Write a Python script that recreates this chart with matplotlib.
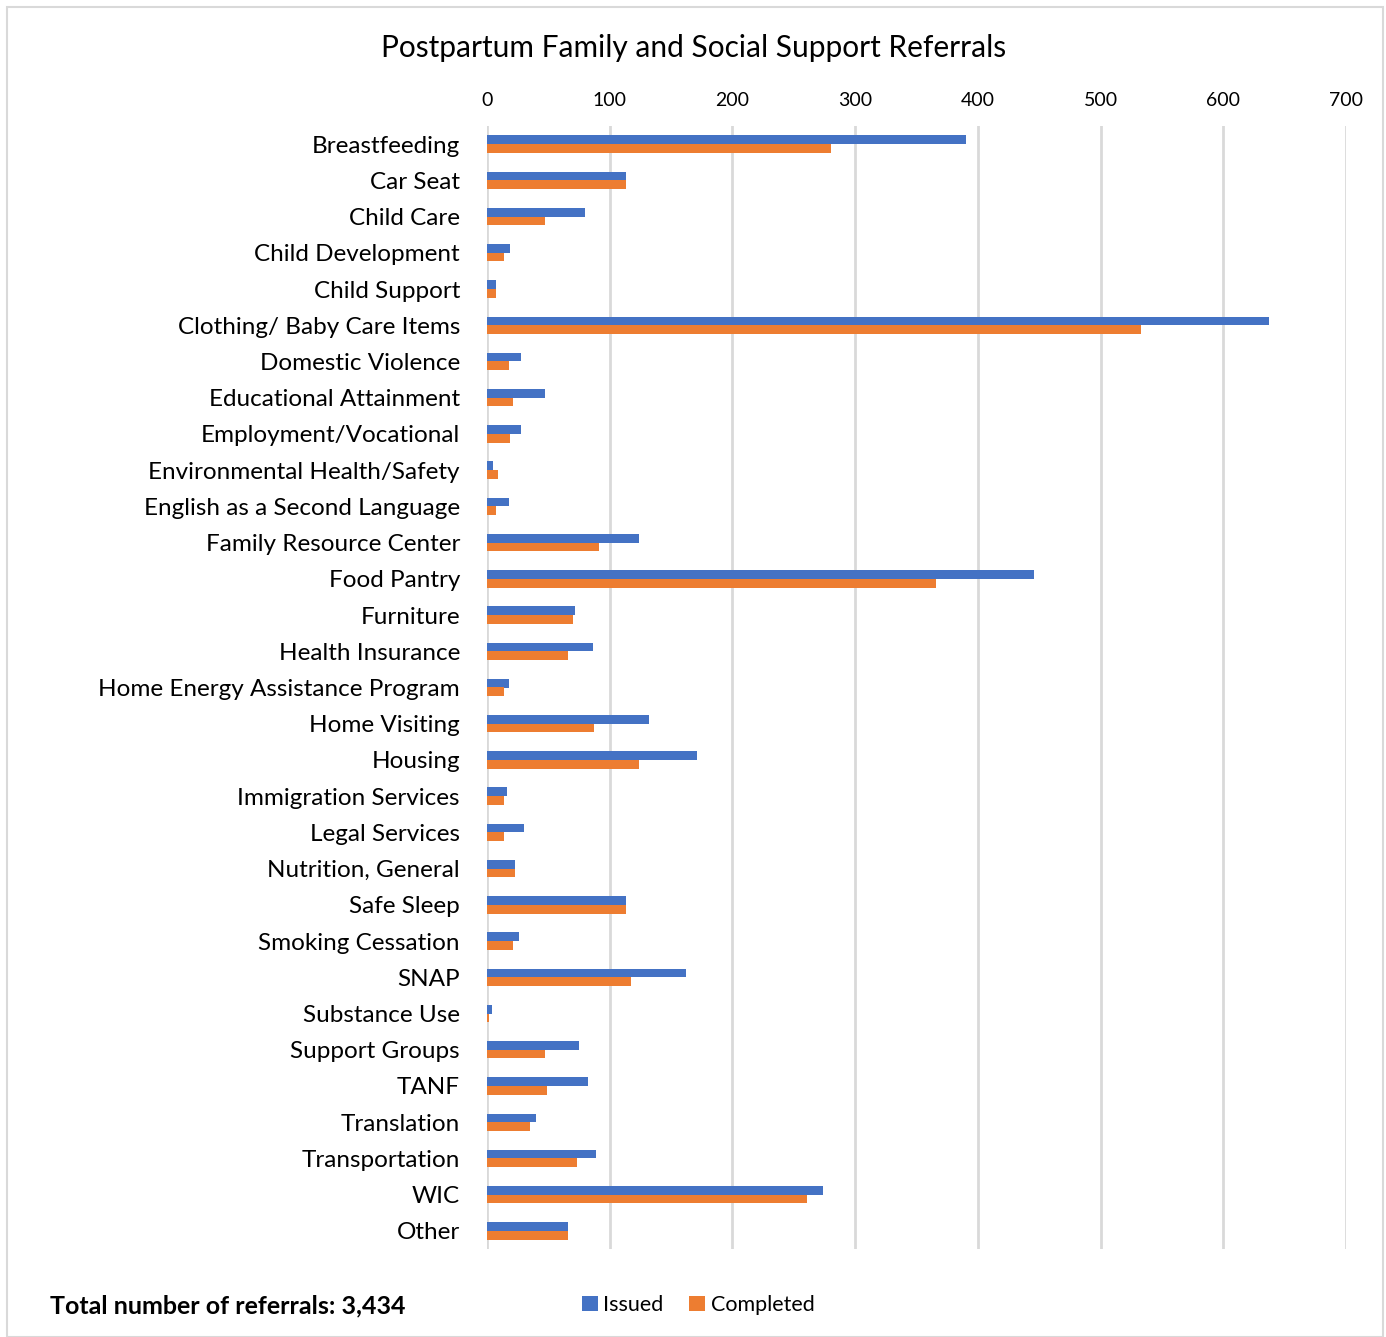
import matplotlib.pyplot as plt
import numpy as np
from matplotlib.patches import Rectangle

categories = ['Breastfeeding', 'Car Seat', 'Child Care', 'Child Development', 'Child Support',
              'Clothing/ Baby Care Items', 'Domestic Violence', 'Educational Attainment',
              'Employment/Vocational', 'Environmental Health/Safety', 'English as a Second Language',
              'Family Resource Center', 'Food Pantry', 'Furniture', 'Health Insurance',
              'Home Energy Assistance Program', 'Home Visiting', 'Housing', 'Immigration Services',
              'Legal Services', 'Nutrition, General', 'Safe Sleep', 'Smoking Cessation', 'SNAP',
              'Substance Use', 'Support Groups', 'TANF', 'Translation', 'Transportation', 'WIC', 'Other']
issued = [390, 113, 80, 19, 7, 637, 28, 47, 28, 5, 18, 124, 446, 72, 86, 18, 132, 171, 16,
          30, 23, 113, 26, 162, 4, 75, 82, 40, 89, 274, 66]
completed = [280, 113, 47, 14, 7, 533, 18, 21, 19, 9, 7, 91, 366, 70, 66, 14, 87, 124, 14,
             14, 23, 113, 21, 117, 2, 47, 49, 35, 73, 261, 66]
xticks = [0, 100, 200, 300, 400, 500, 600, 700]

plt.rcParams['font.family'] = ['Lato', 'DejaVu Sans']

fig = plt.figure(figsize=(13.86, 13.37), dpi=100)
# outer border
fig.patches.append(Rectangle((7 / 1386, 0), 1376 / 1386, 1330 / 1337, transform=fig.transFigure,
                             fill=False, edgecolor='#d9d9d9', lw=1.5))

ax = fig.add_axes([487 / 1386, 1 - 1249 / 1337, (1346 - 487) / 1386, (1249 - 126) / 1337])
y = np.arange(len(categories))
h = 0.24
ax.barh(y - h / 2, issued, height=h, color='#4472c4', label='Issued', zorder=3)
ax.barh(y + h / 2, completed, height=h, color='#ed7d31', label='Completed', zorder=3)

ax.set_ylim(len(categories) - 0.5, -0.5)
ax.set_xlim(0, 700)
ax.set_xticks(xticks)
ax.xaxis.tick_top()
ax.tick_params(axis='x', length=0, labelsize=14, pad=12, colors='#000000')
ax.set_yticks(y)
ax.set_yticklabels(categories, fontsize=17.5)
ax.tick_params(axis='y', length=0, pad=19.5)
ax.grid(axis='x', color='#d9d9d9', lw=2, zorder=0)
for s in ax.spines.values():
    s.set_visible(False)

fig.text(694 / 1386, 1 - 48 / 1337, 'Postpartum Family and Social Support Referrals',
         ha='center', va='center', fontsize=21.5)
fig.text(50 / 1386, 1 - 1306 / 1337, 'Total number of referrals: 3,434',
         ha='left', va='center', fontsize=18, fontweight='bold')
fig.legend(loc='center', bbox_to_anchor=(698 / 1386, 1 - 1305 / 1337), ncol=2, frameon=False,
           fontsize=15.5, handlelength=0.75, handleheight=0.75, handletextpad=0.25, columnspacing=1.2)

fig.savefig('out.png', dpi=100)
